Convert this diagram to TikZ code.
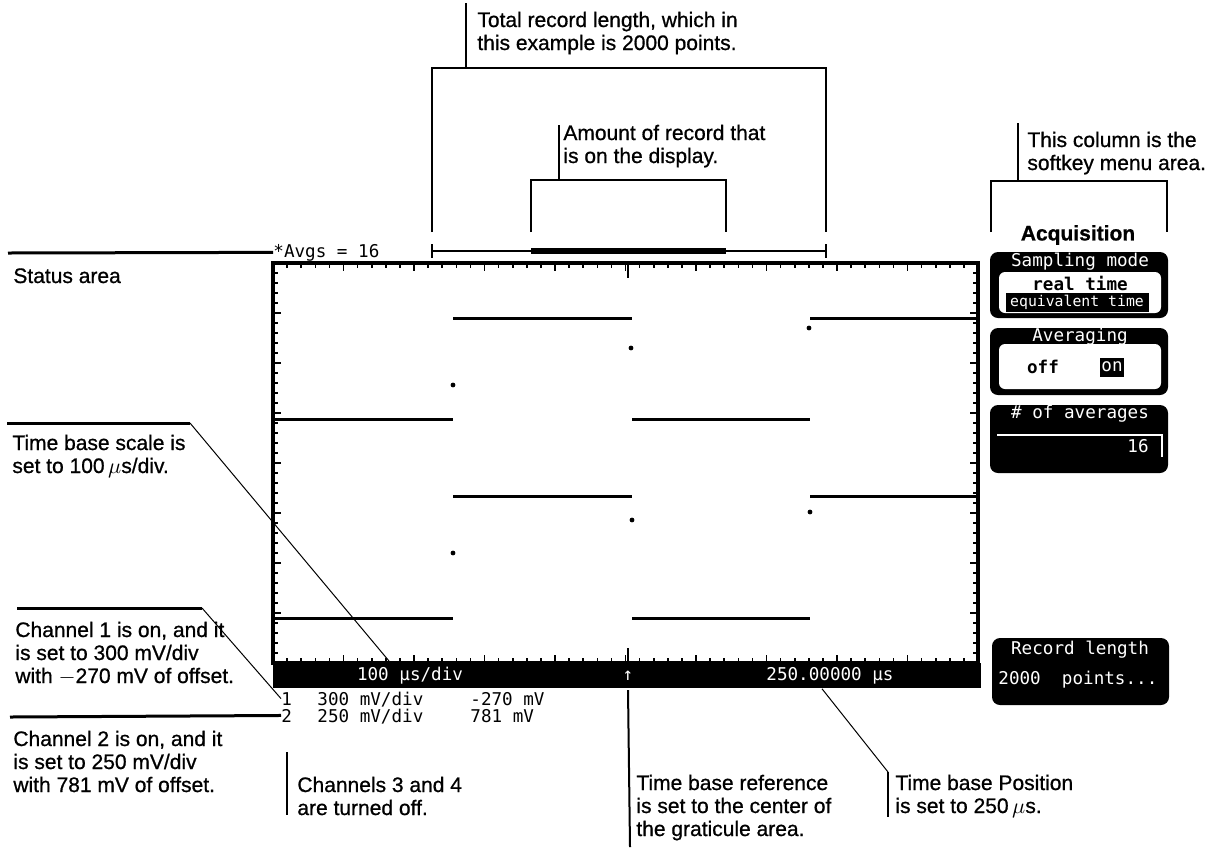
\documentclass[tikz,border=0pt]{standalone}
\usepackage{fontspec}
\setmainfont{Liberation Sans}[FakeBold=0.8]
\newfontfamily\scopefont{DejaVu Sans Mono}
\usetikzlibrary{positioning}

\newcommand{\notesize}{\fontsize{10.5}{11.5}\selectfont}
\newcommand{\screensize}{\scopefont\fontsize{8.8}{10}\selectfont}

\tikzstyle{note} = [anchor=base west, align=left, inner sep=0pt, font=\notesize]
\tikzstyle{readout} = [anchor=base west, inner sep=0pt, font=\screensize]
\tikzstyle{keytext} = [inner sep=0pt, text=white, font=\screensize]
\tikzstyle{leader} = [line width=1pt]
\tikzstyle{shelf} = [line width=1.5pt]
\tikzstyle{slant} = [line width=0.5pt]
\tikzstyle{trace} = [line width=1.5pt]
\tikzstyle{softkey} = [fill=black, rounded corners=4pt]
\tikzstyle{field} = [fill=white, rounded corners=3pt]

\begin{document}
\begin{tikzpicture}[x=0.5pt, y=-0.5pt]
\useasboundingbox (0,0) rectangle (1229,852);

% graticule and ticks
\draw[line width=2pt] (273,263) rectangle (978,663);
\foreach \i in {0,...,50}
    \draw[line width=0.8pt] (273+\i*14.1,263) -- ++(0,5) (273+\i*14.1,663) -- ++(0,-5);
\foreach \i in {0,...,10}
    \draw[line width=0.8pt] (273+\i*70.5,263) -- ++(0,8) (273+\i*70.5,663) -- ++(0,-8);
\foreach \j in {0,...,40}
    \draw[line width=0.8pt] (273,263+\j*10) -- ++(5,0) (978,263+\j*10) -- ++(-5,0);
\foreach \j in {0,...,8}
    \draw[line width=0.8pt] (273,263+\j*50) -- ++(8,0) (978,263+\j*50) -- ++(-8,0);
\draw[line width=0.8pt] (628,263) -- ++(0,15) (628,663) -- ++(0,-15);

% traces
\draw[trace] (273,419) -- (453,419) (453,318) -- (632,318) (632,419) -- (810,419) (810,318) -- (976,318);
\draw[trace] (273,618) -- (453,618) (453,496) -- (632,496) (632,618) -- (810,618) (810,496) -- (976,496);
\foreach \p in {(453,385),(631,348),(809,328),(453,553),(632,520),(810,512)}
    \fill \p circle (1.2pt);

% status line and record bar
\node[readout] (avgs) at (273,257) {*Avgs = 16};
\draw[line width=1pt] (432,251) -- (826,251);
\draw[line width=3pt] (531,251) -- (726,251);
\draw[line width=1pt] (432,244) -- (432,258) (826,244) -- (826,258);

% time base bar
\fill (273,663) rectangle (981,688);
\node[keytext] (tbscale) at (410,676) {100 µs/div};
\node[keytext] (tbmark) at (628,676) {↑};
\node[keytext] (tbpos) at (830,676) {250.00000 µs};
\node[readout] (ch1) at (281,705) {1};
\node[readout] (ch1scale) at (317,705) {300 mV/div};
\node[readout] (ch1ofs) at (470,705) {-270 mV};
\node[readout] (ch2) at (281,722) {2};
\node[readout] (ch2scale) at (317,722) {250 mV/div};
\node[readout] (ch2ofs) at (470,722) {781 mV};

% softkey menu
\node[font=\notesize\bfseries] (acq) at (1078,235) {Acquisition};
\fill[softkey] (990,252) rectangle (1168,318);
\fill[field] (999,272) rectangle (1161,313);
\node[keytext] (sampling) at (1080,262) {Sampling mode};
\node[keytext, text=black, font=\screensize\bfseries] (realtime) at (1080,283) {real time};
\fill (1006,293) rectangle (1149,312);
\node[keytext, font=\scopefont\fontsize{7.4}{9}\selectfont] (equiv) at (1077,302) {equivalent time};
\fill[softkey] (990,328) rectangle (1168,395);
\fill[field] (999,344) rectangle (1161,389);
\node[keytext] (averaging) at (1080,337) {Averaging};
\node[keytext, text=black, font=\screensize\bfseries] (off) at (1043,367) {off};
\fill (1100,358) rectangle (1124,377);
\node[keytext] (on) at (1112,367) {on};
\fill[softkey] (990,405) rectangle (1168,473);
\node[keytext] (navg) at (1080,414) {\# of averages};
\draw[white, line width=0.6pt] (997,435) -- (1162,435) -- (1162,457);
\node[keytext] (sixteen) at (1138,446) {16};
\fill[softkey] (992,638) rectangle (1169,705);
\node[keytext] (reclen) at (1080,650) {Record length};
\node[keytext, anchor=west] (points) at (998,680) {2000\ \ points...};

% callouts
\node[note] (total) at (477,50) {Total record length, which in\\this example is 2000 points.};
\coordinate (totaltop) at (466,3);
\coordinate (totalbar) at (466,68);
\draw[leader] (totaltop) -- (totalbar);
\draw[leader] (432,232) |- (826,68) -- (826,232);

\node[note] (shown) at (563,163) {Amount of record that\\is on the display.};
\coordinate (showntop) at (559,125);
\coordinate (shownbar) at (559,180);
\draw[leader] (showntop) -- (shownbar);
\draw[leader] (531,232) |- (726,180) -- (726,232);

\node[note] (column) at (1027,170) {This column is the\\softkey menu area.};
\coordinate (columntop) at (1018,123);
\coordinate (columnbar) at (1018,181);
\draw[leader] (columntop) -- (columnbar);
\draw[leader] (991,232) |- (1167,181) -- (1167,232);

\node[note] (status) at (13,283) {Status area};
\coordinate (statusend) at (8,253);
\draw[shelf] (statusend) -- (avgs.west);

\node[note] (scale) at (12,473) {Time base scale is\\set to 100\,$\mu$s/div.};
\coordinate (scaleend) at (7,423);
\coordinate (scaleknee) at (190,423);
\coordinate (scaletip) at (389,661);
\draw[shelf] (scaleend) -- (scaleknee);
\draw[slant] (scaleknee) -- (scaletip);

\node[note] (chone) at (15,683) {Channel 1 is on, and it\\is set to 300 mV/div\\with $-$270 mV of offset.};
\coordinate (choneend) at (17,608);
\coordinate (choneknee) at (202,608);
\draw[shelf] (choneend) -- (choneknee);
\draw[slant] (choneknee) -- (ch1.west);

\node[note] (chtwo) at (13,792) {Channel 2 is on, and it\\is set to 250 mV/div\\with 781 mV of offset.};
\coordinate (chtwoend) at (10,717);
\draw[shelf] (chtwoend) -- (ch2.west);

\node[note] (choff) at (297,815) {Channels 3 and 4\\are turned off.};
\coordinate (chofftop) at (287,752);
\coordinate (choffbot) at (287,815);
\draw[leader] (chofftop) -- (choffbot);

\node[note] (ref) at (636,836) {Time base reference\\is set to the center of\\the graticule area.};
\coordinate (refbot) at (630,847);
\draw[leader] (tbmark.south |- 0,690) -- (refbot);

\node[note] (pos) at (895,813) {Time base Position\\is set to 250\,$\mu$s.};
\coordinate (posknee) at (888,772);
\coordinate (posbot) at (888,817);
\draw[slant] (tbpos.south -| 822,0) ++(0,4) -- (posknee);
\draw[leader] (posknee) -- (posbot);
\end{tikzpicture}
\end{document}
